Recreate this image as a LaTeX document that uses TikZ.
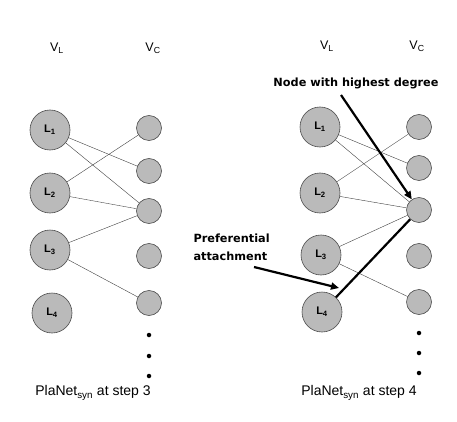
\documentclass[tikz,border=0pt]{standalone}
\usepackage{fontspec}
\setmainfont{Liberation Sans}
\newfontfamily\wideb{DejaVu Sans}
\usetikzlibrary{arrows.meta}
\begin{document}
\begin{tikzpicture}[x=1pt,y=-1pt,
  lnode/.style={circle,draw=black!70,line width=0.6pt,fill=black!27,minimum size=40pt,inner sep=0pt,font=\fontsize{11}{13}\selectfont\bfseries},
  cnode/.style={circle,draw=black!70,line width=0.6pt,fill=black!27,minimum size=25pt,inner sep=0pt},
  dotnode/.style={circle,fill=black,minimum size=4.5pt,inner sep=0pt},
  edge/.style={draw=black!75,line width=0.4pt},
  hlab/.style={font=\fontsize{12.5}{14}\selectfont},
  lab/.style={font=\fontsize{14}{16}\selectfont},
  blab/.style={font=\wideb\fontsize{11.3}{18}\selectfont\bfseries,align=left},
  bigarrow/.style={line width=2.2pt,-{Triangle[length=8pt,width=7pt]}}]
\useasboundingbox (0,0) rectangle (457,422);
% left panel
\node[hlab] (vl1) at (57,48) {V\textsubscript{L}};
\node[hlab] (vc1) at (153,48) {V\textsubscript{C}};
\node[lnode] (a1) at (50,130) {L\textsubscript{1}};
\node[lnode] (a2) at (50,193) {L\textsubscript{2}};
\node[lnode] (a3) at (50,250) {L\textsubscript{3}};
\node[lnode] (a4) at (52,313) {L\textsubscript{4}};
\node[cnode] (b1) at (149,128) {};
\node[cnode] (b2) at (149,171) {};
\node[cnode] (b3) at (149,211) {};
\node[cnode] (b4) at (149,256) {};
\node[cnode] (b5) at (149,303) {};
\node[dotnode] (bd1) at (149,335) {};
\node[dotnode] (bd2) at (149,356) {};
\node[dotnode] (bd3) at (149,376) {};
\draw[edge] (a1) -- (b2);
\draw[edge] (a1) -- (b3);
\draw[edge] (a2) -- (b1);
\draw[edge] (a2) -- (b3);
\draw[edge] (a3) -- (b3);
\draw[edge] (a3) -- (b5);
\node[lab] (t1) at (93,393) {PlaNet\textsubscript{syn} at step 3};
% right panel
\node[hlab] (vl2) at (327,46) {V\textsubscript{L}};
\node[hlab] (vc2) at (417,46) {V\textsubscript{C}};
\node[lnode] (d1) at (320,127) {L\textsubscript{1}};
\node[lnode] (d2) at (320,193) {L\textsubscript{2}};
\node[lnode] (d3) at (321,255) {L\textsubscript{3}};
\node[lnode] (d4) at (322,312) {L\textsubscript{4}};
\node[cnode] (e1) at (419,127) {};
\node[cnode] (e2) at (419,168) {};
\node[cnode] (e3) at (419,210) {};
\node[cnode] (e4) at (419,256) {};
\node[cnode] (e5) at (419,302) {};
\node[dotnode] (ed1) at (419,333) {};
\node[dotnode] (ed2) at (419,353) {};
\node[dotnode] (ed3) at (419,373) {};
\draw[edge] (d1) -- (e2);
\draw[edge] (d1) -- (e3);
\draw[edge] (d2) -- (e1);
\draw[edge] (d2) -- (e3);
\draw[edge] (d3) -- (e3);
\draw[edge] (d3) -- (e5);
\draw[line width=2.2pt] (d4) -- (e3);
\node[lab] (t2) at (359,393) {PlaNet\textsubscript{syn} at step 4};
\node[blab] (hd) at (356,83) {Node with highest degree};
\coordinate (hs) at (341,95);
\draw[bigarrow] (hs) -- (e3);
\node[blab,anchor=west] (pa) at (190,247) {Preferential\\attachment};
\coordinate (ps) at (254,267);
\coordinate (pe) at (339,288);
\draw[bigarrow] (ps) -- (pe);
\end{tikzpicture}
\end{document}
